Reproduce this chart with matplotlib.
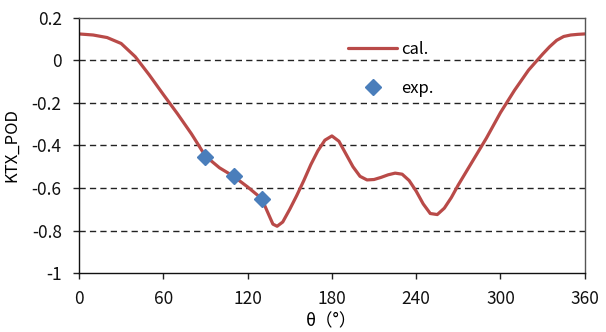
import matplotlib
matplotlib.use("Agg")
import matplotlib.pyplot as plt

plt.rcParams['font.family'] = ['Noto Sans CJK SC', 'DejaVu Sans']

# calculated curve (theta in degrees, KTX_POD)
cal_theta = [0, 10, 20, 30, 40, 50, 60, 70, 80, 90, 100, 110, 120, 130, 134, 138, 141, 145,
             150, 155, 160, 165, 170, 175, 180, 185, 190, 195, 200, 205, 210, 215, 220, 225,
             230, 235, 240, 245, 250, 255, 260, 265, 270, 280, 290, 300, 310, 320, 330, 335,
             340, 345, 350, 355, 360]
cal_val = [0.125, 0.12, 0.108, 0.08, 0.018, -0.068, -0.16, -0.25, -0.345, -0.45, -0.505,
           -0.545, -0.595, -0.65, -0.71, -0.77, -0.78, -0.76, -0.70, -0.635, -0.565, -0.49,
           -0.425, -0.375, -0.355, -0.38, -0.44, -0.50, -0.545, -0.562, -0.56, -0.55, -0.538,
           -0.53, -0.535, -0.565, -0.615, -0.675, -0.72, -0.725, -0.695, -0.645, -0.585,
           -0.475, -0.365, -0.245, -0.14, -0.045, 0.03, 0.065, 0.095, 0.113, 0.12, 0.123, 0.125]

# experimental points
exp_theta = [90, 110, 130]
exp_val = [-0.455, -0.542, -0.652]

x_ticks = [0, 60, 120, 180, 240, 300, 360]
y_ticks = [0.2, 0, -0.2, -0.4, -0.6, -0.8, -1]
y_tick_labels = ['0.2', '0', '-0.2', '-0.4', '-0.6', '-0.8', '-1']

fig = plt.figure(figsize=(6.06, 3.32), dpi=100)
ax = fig.add_axes([0.1304, 0.1777, 0.8346, 0.7681])

for yv in [0, -0.2, -0.4, -0.6, -0.8]:
    ax.axhline(yv, color='#222222', lw=1.0, ls=(0, (4.5, 3)), zorder=1)

ax.plot(cal_theta, cal_val, color='#B94A48', lw=2.3, label='cal.', zorder=2,
        solid_joinstyle='round', solid_capstyle='round')
ax.plot(exp_theta, exp_val, ls='none', marker='D', color='#4A7EBB', markersize=8.5,
        label='exp.', zorder=3)

ax.set_xlim(0, 360)
ax.set_ylim(-1, 0.2)
ax.set_xticks(x_ticks)
ax.set_yticks(y_ticks)
ax.set_yticklabels(y_tick_labels)
ax.tick_params(axis='both', labelsize=12.5, direction='out', length=4.5, width=1,
               colors='#222222', labelcolor='#111111')
ax.tick_params(axis='x', pad=8)
ax.tick_params(axis='y', pad=8)

for side in ['left', 'bottom']:
    ax.spines[side].set_color('#111111')
    ax.spines[side].set_linewidth(1.0)
for side in ['top', 'right']:
    ax.spines[side].set_color('#555555')
    ax.spines[side].set_linewidth(1.0)

ax.set_ylabel('KTX_POD', fontsize=12, labelpad=8)
ax.set_xlabel('θ（°）', fontsize=12.5, labelpad=3)

leg = ax.legend(loc='upper left', bbox_to_anchor=(0.503, 0.97), frameon=False,
                fontsize=12, labelspacing=1.35, handlelength=2.9, handletextpad=0.25)

fig.savefig('out.png', dpi=100)
